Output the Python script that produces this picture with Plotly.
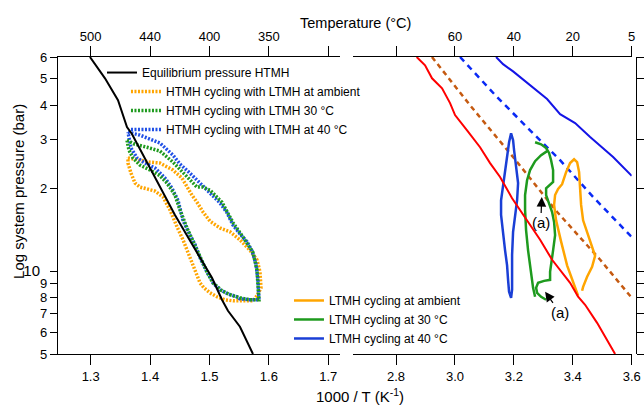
import math
import plotly.graph_objects as go

FONT = "Arial, 'Liberation Sans', sans-serif"

# ---------------- Left panel (HTMH), x = 1000/T (K^-1), p in bar ----------------
eq_htmh_x = [1.2988, 1.3241, 1.3460, 1.3611, 1.3695, 1.4419, 1.4840, 1.5042, 1.5210, 1.5311, 1.5513, 1.5732]
eq_htmh_p = [60.0, 50.2, 41.8, 33.4, 31.5, 16.0, 11.2, 9.46, 7.87, 7.18, 6.28, 5.0]

htmh_amb_x = [1.3628, 1.3830, 1.3998, 1.4167, 1.4385, 1.4537, 1.4621, 1.4705, 1.4790, 1.4891, 1.5008, 1.5177,
              1.5345, 1.5513, 1.5682, 1.5799, 1.5850, 1.5867,
              1.5799, 1.5732, 1.5513, 1.5396, 1.5261, 1.5126, 1.5008, 1.4907, 1.4840, 1.4756, 1.4672, 1.4554,
              1.4453, 1.4335, 1.4217, 1.4082, 1.3948, 1.3830, 1.3746, 1.3679, 1.3628, 1.3628]
htmh_amb_p = [25.8, 25.3, 24.9, 24.7, 23.3, 21.8, 20.2, 18.9, 17.8, 16.4, 15.2, 14.35,
              13.9, 13.0, 11.9, 11.0, 9.94, 8.70,
              8.14, 7.80, 7.80, 7.80, 7.87, 8.07, 8.34, 8.70, 9.07, 10.1, 11.3, 13.0,
              14.5, 16.7, 18.6, 19.55, 19.9, 20.2, 20.9, 22.7, 24.7, 25.8]

htmh_30_x = [1.3611, 1.3746, 1.3948, 1.4167, 1.4385, 1.4621, 1.4790, 1.4891, 1.5008, 1.5210, 1.5311, 1.5396,
             1.5564, 1.5732, 1.5799, 1.5816, 1.5833,
             1.5682, 1.5513, 1.5345, 1.5210, 1.5059, 1.4958, 1.4840, 1.4722, 1.4621, 1.4503, 1.4419, 1.4284,
             1.4167, 1.3998, 1.3830, 1.3712, 1.3645, 1.3611]
htmh_30_p = [29.9, 28.9, 28.2, 27.3, 24.9, 22.0, 20.2, 20.2, 19.7, 17.8, 16.3, 15.0,
             13.3, 11.7, 10.1, 8.92, 7.87,
             7.87, 8.00, 8.21, 8.49, 9.07, 9.94, 11.3, 12.8, 14.35, 16.7, 18.9, 20.9,
             22.2, 23.3, 24.3, 25.8, 27.5, 29.9]

htmh_40_x = [1.3628, 1.3712, 1.3830, 1.3998, 1.4167, 1.4385, 1.4503, 1.4672, 1.4790, 1.4924, 1.5059, 1.5177,
             1.5295, 1.5396, 1.5513, 1.5631, 1.5716, 1.5783, 1.5816, 1.5833,
             1.5682, 1.5513, 1.5463, 1.5311, 1.5177, 1.5059, 1.4958, 1.4840, 1.4756, 1.4672, 1.4554, 1.4470,
             1.4369, 1.4251, 1.4082, 1.3914, 1.3780, 1.3679, 1.3628]
htmh_40_p = [32.0, 31.7, 31.2, 30.2, 29.2, 26.4, 24.5, 22.7, 21.4, 20.2, 18.75, 17.7,
             16.3, 14.7, 13.65, 12.8, 11.85, 10.6, 9.30, 7.87,
             7.87, 7.93, 8.07, 8.27, 8.56, 9.07, 9.94, 11.2, 12.5, 13.5, 15.3, 18.1,
             20.0, 21.8, 23.7, 24.7, 25.8, 28.0, 32.0]

# ---------------- Right panel (LTMH) ----------------
red_x = [2.870, 2.8985, 2.9222, 2.9562, 2.9834, 3.0003, 3.0411, 3.0852, 3.1192, 3.1531, 3.1939, 3.2448,
         3.2890, 3.3297, 3.3569, 3.3908, 3.4180, 3.4418, 3.4825, 3.5165, 3.5436]
red_p = [60.0, 56.0, 50.2, 46.2, 40.8, 36.9, 32.5, 28.2, 24.7, 22.0, 18.4, 15.3,
         13.0, 11.0, 10.1, 9.07, 8.07, 7.55, 6.49, 5.64, 5.0]

brown_x = [2.922, 3.051, 3.197, 3.347, 3.493, 3.600]
brown_p = [60.0, 40.1, 26.0, 16.4, 11.0, 8.0]

bdash_x = [3.0173, 3.1430, 3.2550, 3.3569, 3.4690, 3.600]
bdash_p = [60.0, 42.9, 32.5, 25.3, 18.6, 13.3]

bsolid_x = [3.1396, 3.1633, 3.1973, 3.2550, 3.3127, 3.3569, 3.4078, 3.4588, 3.4927, 3.5368, 3.600]
bsolid_p = [60.0, 56.5, 53.2, 47.4, 42.2, 37.2, 34.5, 30.7, 28.5, 26.0, 22.2]

ltmh_amb_x = [3.4180, 3.4010, 3.3806, 3.3603, 3.3433, 3.3365, 3.3399, 3.3501, 3.3637, 3.3772, 3.3908, 3.4044,
              3.4146, 3.4214, 3.4248, 3.4282, 3.4350, 3.4486, 3.4655, 3.4757, 3.4655, 3.4486, 3.4350, 3.4316]
ltmh_amb_p = [8.14, 9.07, 10.5, 12.8, 15.3, 17.4, 18.9, 19.9, 20.7, 22.9, 24.7, 25.5,
              24.9, 22.9, 19.7, 17.4, 15.3, 13.9, 12.35, 11.36, 10.37, 9.54, 8.77, 8.49]

ltmh_30_x = [3.2720, 3.2924, 3.3094, 3.3195, 3.3263, 3.3331, 3.3331, 3.3195, 3.3094, 3.3094, 3.3195, 3.3297,
             3.3365, 3.3399, 3.3331, 3.3263, 3.3229, 3.3229, 3.3026, 3.2822, 3.2754, 3.2788, 3.2924, 3.3094,
             None,
             3.3128, 3.2924, 3.2720, 3.2550, 3.2448, 3.2380, 3.2380, 3.2414, 3.2482, 3.2550, 3.2618, 3.2652, 3.2720]
ltmh_30_p = [29.4, 28.9, 28.0, 26.9, 25.3, 23.3, 21.1, 20.4, 20.0, 18.9, 17.7, 16.4,
             15.1, 13.5, 11.9, 10.8, 9.94, 9.30, 9.22, 9.07, 8.70, 8.34, 8.07, 7.87,
             None,
             27.3, 26.4, 25.1, 23.3, 21.4, 18.9, 16.7, 14.1, 11.9, 10.5, 9.46, 8.70, 8.07]

ltmh_40_x = [3.1905, 3.1973, 3.2007, 3.2075, 3.2143, 3.2109, 3.2041, 3.1973, 3.1939, 3.1939, 3.1939, 3.1905,
             3.1837, 3.1803, 3.1769, 3.1701, 3.1633, 3.1565, 3.1565, 3.1633, 3.1701, 3.1769, 3.1837, 3.1905]
ltmh_40_p = [31.7, 29.9, 27.5, 24.3, 20.9, 18.1, 16.0, 13.9, 11.46, 9.70, 8.56, 8.00,
             8.41, 9.30, 10.5, 11.9, 13.5, 16.0, 18.1, 20.6, 23.7, 26.9, 29.4, 31.7]

# axis ticks
left_ticks = [1.3, 1.4, 1.5, 1.6, 1.7]
left_top_labels = ["500", "440", "400", "350", " "]
right_ticks = [2.8, 3.0, 3.2, 3.4, 3.6]
right_top_labels = [" ", "60", "40", "20", "5"]
p_ticks = [5, 6, 7, 8, 9, 10, 20, 30, 40, 50, 60]
p_labels = ["5", "6", "7", "8", "9", "<span style='font-size:15px'>10</span>\u00a0\u00a0",
            "2", "3", "4", "5", "6"]
p_major = 10

ORANGE = "#FFA500"
GREEN = "#1E9A1E"
BLUE = "#1F4FE6"
DOT = "2px,1.5px"

fig = go.Figure()


def line(x, y, name, color, width, dash, xa, ya, legend="legend", show=True):
    fig.add_trace(go.Scatter(x=x, y=y, mode="lines", name=name,
                             line=dict(color=color, width=width, dash=dash),
                             xaxis=xa, yaxis=ya, legend=legend, showlegend=show,
                             connectgaps=False, hoverinfo="skip"))


line(htmh_amb_x, htmh_amb_p, "HTMH cycling with LTMH at ambient", ORANGE, 3.5, DOT, "x", "y", "legend3")
line(htmh_40_x, htmh_40_p, "HTMH cycling with LTMH at 40 °C", BLUE, 3.5, DOT, "x", "y", "legend3")
line(htmh_30_x, htmh_30_p, "HTMH cycling with LTMH 30 °C", GREEN, 3.5, DOT, "x", "y", "legend3")
line(eq_htmh_x, eq_htmh_p, "Equilibrium pressure HTMH", "black", 2, "solid", "x3", "y", "legend")

line(red_x, red_p, "red", "#FF0000", 2, "solid", "x4", "y2", show=False)
line(brown_x, brown_p, "brown", "#C55A11", 2.5, "5px,4px", "x2", "y2", show=False)
line(bdash_x, bdash_p, "bdash", "#0A2AF5", 2.5, "6px,5px", "x2", "y2", show=False)
line(bsolid_x, bsolid_p, "bsolid", "#1414E6", 2, "solid", "x2", "y2", show=False)
line(ltmh_40_x, ltmh_40_p, "LTMH cycling at 40 °C", "#1A3FD6", 2.5, "solid", "x2", "y2", "legend2")
line(ltmh_30_x, ltmh_30_p, "LTMH cycling at 30 °C", GREEN, 2.5, "solid", "x2", "y2", "legend2")
line(ltmh_amb_x, ltmh_amb_p, "LTMH cycling at ambient", ORANGE, 2.5, "solid", "x2", "y2", "legend2")

ax = dict(showline=True, linecolor="black", linewidth=1.3, ticks="outside", tickcolor="black",
          tickwidth=1.3, showgrid=False, zeroline=False, automargin=False,
          tickfont=dict(size=13, color="black", family=FONT))
xl_range = [1.245, 1.7197]
xr_range = [2.653, 3.6]
y_range = [math.log10(5), math.log10(60)]

leg = dict(xanchor="left", yanchor="top", bgcolor="rgba(0,0,0,0)", borderwidth=0,
           font=dict(size=12, family=FONT, color="black"), traceorder="normal")

fig.update_layout(
    template="none",
    width=644, height=409, margin=dict(l=58, r=8, t=57, b=55, autoexpand=False),
    paper_bgcolor="white", plot_bgcolor="white",
    font=dict(family=FONT, color="black"),
    xaxis=dict(domain=[0, 0.4879], range=xl_range, tickvals=left_ticks,
               ticktext=["1.3", "1.4", "1.5", "1.6", "1.7"], ticklen=10, anchor="y", **ax),
    xaxis2=dict(domain=[0.5099, 0.9926], range=xr_range, tickvals=right_ticks,
                ticktext=["2.8", "3.0", "3.2", "3.4", "3.6"], ticklen=10, anchor="y2", **ax),
    xaxis3=dict(overlaying="x", side="top", anchor="y", range=xl_range, tickvals=left_ticks,
                ticktext=left_top_labels, ticklen=10, **ax),
    xaxis4=dict(overlaying="x2", side="top", anchor="y2", range=xr_range, tickvals=right_ticks,
                ticktext=right_top_labels, ticklen=10, **ax),
    yaxis=dict(type="log", range=y_range, tickvals=p_ticks, ticktext=p_labels, ticklen=7,
               anchor="x", side="left", domain=[0, 1], **ax),
    yaxis2=dict(type="log", range=y_range, tickvals=p_ticks, showticklabels=False, ticklen=7,
                anchor="free", position=1.0, side="right", domain=[0, 1], **ax),
    legend=dict(x=0.0761, y=0.9965, **leg),
    legend3=dict(x=0.1176, y=0.9325, **leg),
    legend2=dict(x=0.3996, y=0.229, **leg),
    showlegend=True,
)

fig.update_traces(selector=dict(name="LTMH cycling at ambient"), legendrank=1)
fig.update_traces(selector=dict(name="LTMH cycling at 30 °C"), legendrank=2)
fig.update_traces(selector=dict(name="LTMH cycling at 40 °C"), legendrank=3)
fig.update_traces(selector=dict(name="HTMH cycling with LTMH at ambient"), legendrank=1)
fig.update_traces(selector=dict(name="HTMH cycling with LTMH 30 °C"), legendrank=2)
fig.update_traces(selector=dict(name="HTMH cycling with LTMH at 40 °C"), legendrank=3)

# longer major tick at 10 bar on both pressure axes
fig.add_shape(type="line", xref="paper", yref="y", x0=-0.0277, x1=0, y0=math.log10(p_major),
              y1=math.log10(p_major), line=dict(color="black", width=1.3))
fig.add_shape(type="line", xref="paper", yref="y", x0=1.0, x1=1.0138, y0=math.log10(p_major),
              y1=math.log10(p_major), line=dict(color="black", width=1.3))

annos = [
    dict(text="Temperature (°C)", x=0.514, y=1.1145, xref="paper", yref="paper",
         xanchor="center", yanchor="middle",
         showarrow=False, font=dict(size=14.5, family=FONT, color="black")),
    dict(text="1000 / T (K<sup>-1</sup>)", x=0.5225, y=-0.1414, xref="paper", yref="paper",
         xanchor="center", yanchor="middle",
         showarrow=False, font=dict(size=15, family=FONT, color="black")),
    dict(text="Log system pressure (bar)", x=-0.0675, y=0.549, xref="paper", yref="paper",
         xanchor="center", yanchor="middle",
         textangle=-90, showarrow=False, font=dict(size=15, family=FONT, color="black")),
    dict(text="(a)", x=3.2947, y=math.log10(18.6), xref="x2", yref="y2", ax=-1, ay=26,
         showarrow=True, arrowhead=2, arrowsize=1.6, arrowwidth=1.2, arrowcolor="black",
         font=dict(size=15, family=FONT, color="black"), standoff=0),
    dict(text="(a)", x=3.3060, y=math.log10(8.41), xref="x2", yref="y2", ax=15, ay=21,
         showarrow=True, arrowhead=2, arrowsize=1.6, arrowwidth=1.2, arrowcolor="black",
         font=dict(size=15, family=FONT, color="black"), standoff=0),
]
fig.update_layout(annotations=annos)

fig.write_html("out.html")
